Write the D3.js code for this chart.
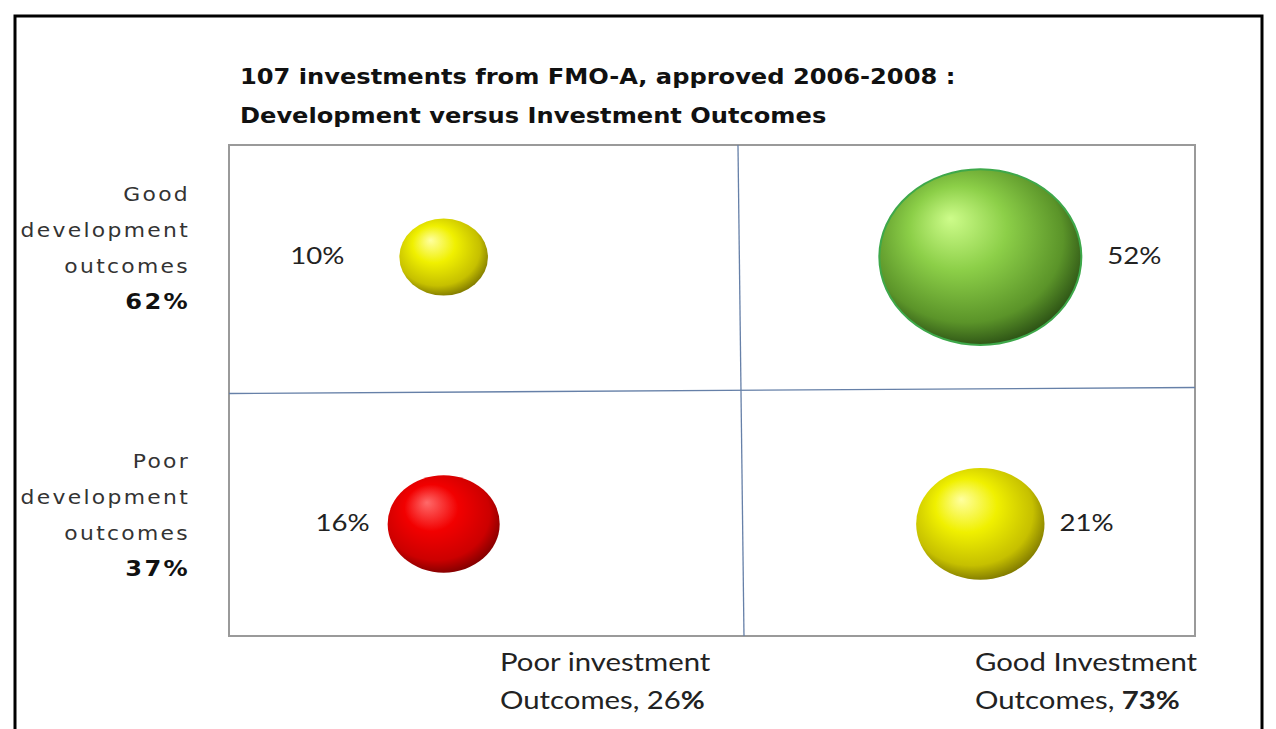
<!DOCTYPE html>
<html>
<head>
<meta charset="utf-8">
<script src="https://cdn.jsdelivr.net/npm/d3@7"></script>
<style>
  body { margin: 0; background: #fff; }
  svg { display: block; }
</style>
</head>
<body>
<div id="chart"></div>
<script>
// chart data
const titleLines = ['107 investments from FMO-A, approved 2006-2008 :', 'Development versus Investment Outcomes'];
const invCategories = ['Poor', 'Good'];          // x axis
const devCategories = ['Good', 'Poor'];          // y axis, top to bottom
const bubbleInv = ['Poor', 'Good', 'Poor', 'Good'];
const bubbleDev = ['Good', 'Good', 'Poor', 'Poor'];
const bubbleShare = [10, 52, 16, 21];
const bubbleColor = ['yellow', 'green', 'red', 'yellow'];
const devLabels = [['Good', 'development', 'outcomes'], ['Poor', 'development', 'outcomes']];
const devShares = ['62%', '37%'];
const invLabelTop = ['Poor investment', 'Good Investment'];
const invLabelBottom = [['Outcomes, 26', '%'], ['Outcomes, ', '73%']];

const W = 1276, H = 729;
const box = { left: 229, top: 145, right: 1195, bottom: 636 };
const stretch = 1.15; // source picture is a bit wider than tall
// where each bubble's label sits: side and gap from the bubble edge
const labelSide = ['left', 'right', 'left', 'right'];
const labelGap = [55, 26, 18, 15];

const svg = d3.select('#chart').append('svg')
  .attr('width', W)
  .attr('height', H);

// sphere gradients
const palettes = {
  yellow: ['#ffffa0', '#f0f000', '#c6c000', '#7e7800'],
  green:  ['#cdfc8a', '#8ccf48', '#5b9429', '#2a4f14'],
  red:    ['#ff6a6a', '#f20000', '#cc0000', '#800000']
};
const defs = svg.append('defs');
Object.entries(palettes).forEach(([k, c]) => {
  const g = defs.append('radialGradient')
    .attr('id', 'grad-' + k)
    .attr('cx', '45%').attr('cy', '42%').attr('r', '60%')
    .attr('fx', '35%').attr('fy', '28%');
  g.append('stop').attr('offset', '0%').attr('stop-color', c[0]);
  g.append('stop').attr('offset', '40%').attr('stop-color', c[1]);
  g.append('stop').attr('offset', '80%').attr('stop-color', c[2]);
  g.append('stop').attr('offset', '100%').attr('stop-color', c[3]);
});

// outer frame
svg.append('path')
  .attr('d', `M15,${H + 5}V16H1262V${H + 5}`)
  .attr('fill', 'none')
  .attr('stroke', '#000')
  .attr('stroke-width', 3);

// scales
const x = d3.scalePoint().domain(invCategories).range([box.left, box.right]).padding(0.4);
const y = d3.scalePoint().domain(devCategories).range([box.top, box.bottom]).padding(0.42);
const r = d3.scaleSqrt().domain([0, 52]).range([0, 101]);

// title
svg.append('g')
  .selectAll('text')
  .data(titleLines)
  .join('text')
  .attr('transform', (d, i) => `translate(240,${84 + i * 39}) scale(${stretch},1)`)
  .style('font-family', '"DejaVu Sans", Verdana, sans-serif')
  .style('font-weight', 'bold')
  .style('font-size', '21px')
  .attr('fill', '#111')
  .text(d => d);

// plot box
svg.append('rect')
  .attr('x', box.left)
  .attr('y', box.top)
  .attr('width', box.right - box.left)
  .attr('height', box.bottom - box.top)
  .attr('fill', '#fff')
  .attr('stroke', '#9a9a9a')
  .attr('stroke-width', 2);

// quadrant dividers
const midX = box.left + 0.53 * (box.right - box.left);
const midY = (y('Good') + y('Poor')) / 2;
svg.append('line')
  .attr('x1', midX - 3).attr('y1', box.top)
  .attr('x2', midX + 3).attr('y2', box.bottom)
  .attr('stroke', '#6680a8').attr('stroke-width', 1.3);
svg.append('line')
  .attr('x1', box.left).attr('y1', midY + 3)
  .attr('x2', box.right).attr('y2', midY - 3)
  .attr('stroke', '#6680a8').attr('stroke-width', 1.3);

// bubbles
const bubbles = bubbleShare.map((v, i) => ({
  v, inv: bubbleInv[i], dev: bubbleDev[i], color: bubbleColor[i],
  side: labelSide[i], gap: labelGap[i]
}));

svg.append('g')
  .selectAll('ellipse')
  .data(bubbles)
  .join('ellipse')
  .attr('cx', d => x(d.inv))
  .attr('cy', d => y(d.dev))
  .attr('rx', d => r(d.v))
  .attr('ry', d => r(d.v) / stretch)
  .attr('fill', d => `url(#grad-${d.color})`)
  .attr('stroke', d => d.color === 'green' ? '#3ea84a' : 'none')
  .attr('stroke-width', 2);

// bubble labels
svg.append('g')
  .selectAll('text')
  .data(bubbles)
  .join('text')
  .attr('transform', d => {
    const px = d.side === 'left' ? x(d.inv) - r(d.v) - d.gap : x(d.inv) + r(d.v) + d.gap;
    return `translate(${px},${y(d.dev) + 7}) scale(${stretch},1)`;
  })
  .attr('text-anchor', d => d.side === 'left' ? 'end' : 'start')
  .style('font-family', 'Lato, "Open Sans", sans-serif')
  .style('font-size', '24px')
  .attr('fill', '#222')
  .text(d => d.v + '%');

// left axis labels
devCategories.forEach((c, i) => {
  const cy = y(c);
  const g = svg.append('g')
    .style('font-family', '"DejaVu Sans", Verdana, sans-serif')
    .style('font-size', '19px')
    .attr('fill', '#333');
  g.selectAll('text.line')
    .data(devLabels[i])
    .join('text')
    .attr('class', 'line')
    .attr('transform', (d, j) => `translate(190,${cy - 56 + j * 36}) scale(${stretch},1)`)
    .attr('text-anchor', 'end')
    .attr('letter-spacing', '2px')
    .text(d => d);
  g.append('text')
    .attr('transform', `translate(190,${cy - 56 + 3 * 36}) scale(${stretch},1)`)
    .attr('text-anchor', 'end')
    .attr('letter-spacing', '2px')
    .style('font-weight', 'bold')
    .style('font-size', '21px')
    .attr('fill', '#111')
    .text(devShares[i]);
});

// bottom axis labels
const invX = [500, 975];
invCategories.forEach((c, i) => {
  const g = svg.append('g')
    .style('font-family', 'Lato, "Open Sans", sans-serif')
    .style('font-size', '25.5px')
    .attr('fill', '#222');
  g.append('text')
    .attr('transform', `translate(${invX[i]},671) scale(${stretch},1)`)
    .text(invLabelTop[i]);
  const t = g.append('text')
    .attr('transform', `translate(${invX[i]},709) scale(${stretch},1)`);
  t.append('tspan').text(invLabelBottom[i][0]);
  t.append('tspan').text(invLabelBottom[i][1]).style('font-weight', 'bold');
});
</script>
</body>
</html>
